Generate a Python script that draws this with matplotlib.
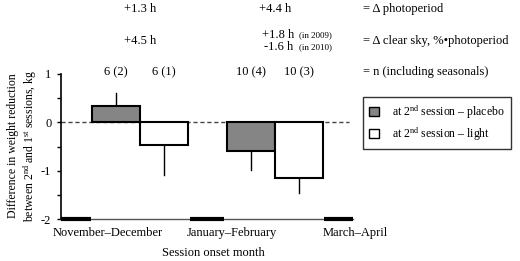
import matplotlib
matplotlib.use("Agg")
import matplotlib.pyplot as plt
import matplotlib.transforms as mtransforms
from matplotlib.patches import Patch

# data
months = ["November\u2013December", "January\u2013February", "March\u2013April"]
placebo = [0.34, -0.60]
placebo_err = [0.27, 0.39]
light = [-0.47, -1.15]
light_err = [0.62, 0.31]
n_placebo = ["6 (2)", "10 (4)"]
n_light = ["6 (1)", "10 (3)"]
photoperiod = ["+1.3 h", "+4.4 h"]
clear_sky = ["+4.5 h", None]
clear_sky_split = ["+1.8 h", "-1.6 h"]
clear_sky_years = ["(in 2009)", "(in 2010)"]
row_notes = ["= \u0394 photoperiod", "= \u0394 clear sky, %\u2022photoperiod",
             "= n (including seasonals)"]

plt.rcParams['font.family'] = ['Liberation Serif', 'DejaVu Serif']
plt.rcParams['mathtext.fontset'] = 'custom'
plt.rcParams['mathtext.rm'] = 'Liberation Serif'
plt.rcParams['mathtext.it'] = 'Liberation Serif:italic'
plt.rcParams['axes.unicode_minus'] = False
FS = 9

fig = plt.figure(figsize=(5.2, 2.61), dpi=100)
ax = fig.add_axes([61/520, 1-219/261, 292/520, 145/261])

centers = [1.755, 4.755]
w = 1.07
xp = [c - w/2 for c in centers]
xl = [c + w/2 for c in centers]

ax.axhline(0, xmax=0.985, color='#444444', lw=1, ls=(0, (3, 2)), zorder=1)

ax.bar(xp, placebo, width=w, color='#858585', edgecolor='black', lw=1.5, zorder=2)
ax.bar(xl, light, width=w, color='white', edgecolor='black', lw=1.5, zorder=2)

# one-sided error bars
for x, v, e in zip(xp + xl, placebo + light, placebo_err + light_err):
    s = 1 if v > 0 else -1
    ax.plot([x, x], [v, v + s*e], color='black', lw=1, zorder=1)

ax.set_xlim(0, 6.49)
ax.set_ylim(-2, 1)
ax.set_yticks([1, 0, -1, -2])
ax.set_yticks([0.5, -0.5, -1.5], minor=True)
ax.tick_params(axis='y', which='both', direction='out', length=3, width=1, labelsize=FS, pad=4)
ax.set_xticks([])
for s in ['top', 'right']:
    ax.spines[s].set_visible(False)
ax.spines['left'].set_linewidth(1.2)
ax.spines['bottom'].set_color('#555555')
ax.spines['bottom'].set_linewidth(1)

# thick month segments on the baseline
for a, b in [(0, 0.67), (2.87, 3.62), (5.84, 6.49)]:
    ax.plot([a, b], [-2, -2], color='black', lw=3, solid_capstyle='butt', clip_on=False, zorder=3)

fig.text(23/520, 1-146/261,
         "Difference in weight reduction\nbetween 2$^{\\mathrm{nd}}$ and 1$^{\\mathrm{st}}$ sessions, kg",
         fontsize=8.5, rotation=90, ha='center', va='center', linespacing=1.2)

for x, m in zip([-0.18, 2.8, 5.82], months):
    ax.text(x, -2.17, m, fontsize=FS, ha='left', va='top')
fig.text(213/520, 1-253/261, "Session onset month", fontsize=FS, ha='center', va='center')

tr = mtransforms.blended_transform_factory(ax.transData, fig.transFigure)
for c, t in zip(centers, photoperiod):
    ax.text(c, 1-9/261, t, transform=tr, fontsize=FS, ha='center', va='center')
ax.text(centers[0], 1-41/261, clear_sky[0], transform=tr, fontsize=FS, ha='center', va='center')
for i, (t, yr) in enumerate(zip(clear_sky_split, clear_sky_years)):
    y = 1 - (35 + 12*i)/261
    ax.text(4.46 + 0.06*i, y, t, transform=tr, fontsize=FS, ha='left', va='center')
    ax.text(5.29, y, yr, transform=tr, fontsize=6.5, ha='left', va='center')
for x, a, b in zip(centers, n_placebo, n_light):
    ax.text(x - w/2, 1-72/261, a, transform=tr, fontsize=FS, ha='center', va='center')
    ax.text(x + w/2, 1-72/261, b, transform=tr, fontsize=FS, ha='center', va='center')
for yy, t in zip([9, 41, 72], row_notes):
    fig.text(363/520, 1-yy/261, t, fontsize=FS, ha='left', va='center')

handles = [Patch(facecolor='#858585', edgecolor='black', lw=1),
           Patch(facecolor='white', edgecolor='black', lw=1)]
labels = ["at 2$^{\\mathrm{nd}}$ session \u2013 placebo", "at 2$^{\\mathrm{nd}}$ session \u2013 light"]
leg = fig.legend(handles, labels, loc='upper left', bbox_to_anchor=(363/520, 1-97/261),
                 fontsize=8.5, frameon=True, fancybox=False, handlelength=0.8, handleheight=0.8,
                 handletextpad=1.1, borderpad=0.55, borderaxespad=0, labelspacing=0.35)
leg.get_frame().set_edgecolor('black')
leg.get_frame().set_linewidth(1)

fig.savefig("out.png", dpi=100)
